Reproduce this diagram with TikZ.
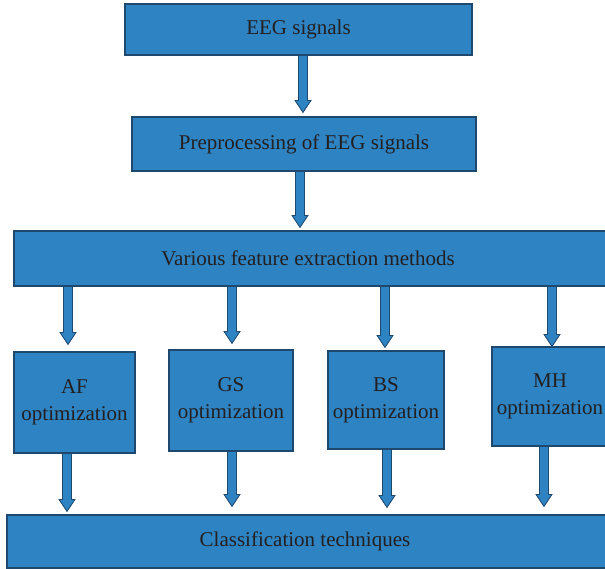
\documentclass[tikz,border=0pt]{standalone}
\usepackage{fontspec}
\setmainfont{Liberation Serif}
\usetikzlibrary{calc}
\definecolor{boxblue}{RGB}{46,131,194}
\definecolor{boxedge}{RGB}{30,72,110}
\definecolor{txt}{RGB}{35,31,32}
\tikzset{
  lbl/.style={text=txt, font=\fontsize{21}{27}\selectfont},
  box/.style={draw=boxedge, fill=boxblue, line width=1.1pt, inner sep=0pt,
    lbl, align=center},
  fat/.style={draw=boxedge, fill=boxblue, line width=0.8pt, line join=miter}
}
% #1 x (px), #2 source node, #3 target node, #4 gap above target
\newcommand\fatarrow[4]{%
  \draw[fat] let \p1=(#2.south), \p2=(#3.north) in
    ({#1pt-4.5pt},\y1) -- ({#1pt+4.5pt},\y1) -- ({#1pt+4.5pt},{\y2+#4pt+12pt})
    -- ({#1pt+8pt},{\y2+#4pt+12pt}) -- ({#1pt},{\y2+#4pt})
    -- ({#1pt-8pt},{\y2+#4pt+12pt}) -- ({#1pt-4.5pt},{\y2+#4pt+12pt}) -- cycle;}
\begin{document}
\begin{tikzpicture}[x=1pt,y=-1pt]
\clip (0,0) rectangle (605,569);
\fill[white] (0,0) rectangle (605,569);
\node[box, minimum width=347pt, minimum height=51pt] (eeg) at (298.5,29.5) {EEG signals};
\node[box, minimum width=344pt, minimum height=54pt] (pre) at (304,144) {Preprocessing of EEG signals};
\node[box, minimum width=594pt, minimum height=55pt] (feat) at (311,258.5) {};
\node[lbl] (featlbl) at (308,258) {Various feature extraction methods};
\node[box, minimum width=121pt, minimum height=101pt] (af) at (74.5,402.5) {AF\\optimization};
\node[box, minimum width=124pt, minimum height=101pt] (gs) at (231,400.5) {GS\\optimization};
\node[box, minimum width=116pt, minimum height=98pt] (bs) at (386,400) {BS\\optimization};
\node[box, minimum width=116pt, minimum height=99pt] (mh) at (550,396.5) {MH\\optimization};
\node[box, minimum width=601pt, minimum height=53pt] (cls) at (307.5,541.5) {};
\node[lbl] (clslbl) at (305,541) {Classification techniques};
\fatarrow{303}{eeg}{pre}{4}
\fatarrow{300}{pre}{feat}{3}
\fatarrow{68}{feat}{af}{7}
\fatarrow{232}{feat}{gs}{6}
\fatarrow{385}{feat}{bs}{3}
\fatarrow{552}{feat}{mh}{0}
\fatarrow{67}{af}{cls}{3}
\fatarrow{232}{gs}{cls}{8}
\fatarrow{387}{bs}{cls}{7}
\fatarrow{544}{mh}{cls}{8}
\end{tikzpicture}
\end{document}
